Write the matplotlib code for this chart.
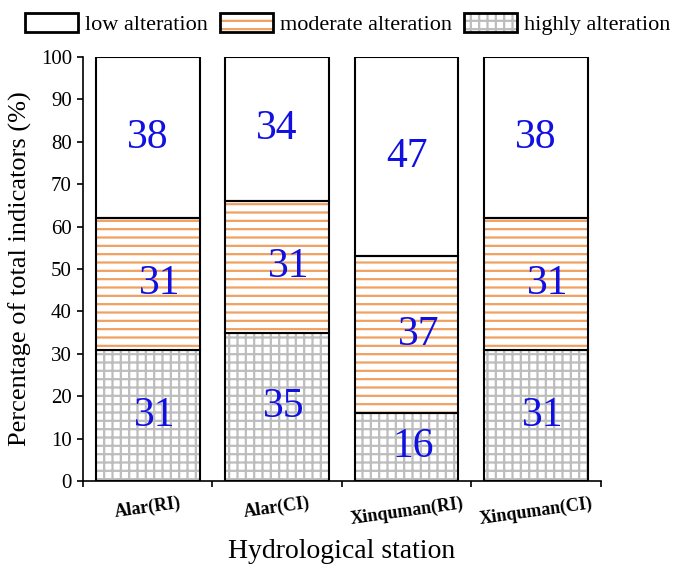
import matplotlib
matplotlib.use("Agg")
import matplotlib.pyplot as plt
import matplotlib.patches as patches
import numpy as np

# data
stations = ["Alar(RI)", "Alar(CI)", "Xinquman(RI)", "Xinquman(CI)"]
highly = [31, 35, 16, 31]
moderate = [31, 31, 37, 31]
low = [38, 34, 47, 38]
series_names = ["low alteration", "moderate alteration", "highly alteration"]

plt.rcParams["font.family"] = ["Liberation Serif", "DejaVu Serif"]
plt.rcParams["hatch.linewidth"] = 1.6

fig = plt.figure(figsize=(6.75, 5.64), dpi=100)
ax = fig.add_axes([0.123, 0.147, 0.767, 0.752])

x = np.arange(len(stations))
w = 0.8
bottoms_mod = np.array(highly)
bottoms_low = bottoms_mod + np.array(moderate)

grey = "#bdbdbd"
orange = "#f0a060"
layers = [
    (highly, np.zeros(len(x)), "++", grey),
    (moderate, bottoms_mod, "--", orange),
    (low, bottoms_low, None, None),
]
for vals, bot, hatch, hcol in layers:
    if hatch:
        ax.bar(x, vals, w, bottom=bot, color="white", edgecolor=hcol,
               hatch=hatch, linewidth=0)
    ax.bar(x, vals, w, bottom=bot, fill=False, edgecolor="black", linewidth=1.5)

# value labels (middle layer is drawn a bit right of centre, as in the original)
for vals, bot, off in zip([highly, moderate, low],
                          [np.zeros(len(x)), bottoms_mod, bottoms_low],
                          [0.05, 0.09, 0.0]):
    for i in range(len(x)):
        ax.text(x[i] + off, bot[i] + vals[i] / 2, str(vals[i]), color="#1010e0",
                fontsize=30, ha="center", va="center")

ax.set_xlim(-0.5, 3.5)
ax.set_ylim(0, 100)
ax.set_yticks(np.arange(0, 101, 10))
ax.tick_params(axis="y", labelsize=15, direction="out", length=4, width=1.2, pad=4)
ax.set_xticks(np.arange(-0.5, 3.6, 1.0))
ax.set_xticklabels([])
ax.tick_params(axis="x", direction="out", length=4, width=1.2)
ax.set_xticks(x, minor=True)
ax.set_xticklabels(stations, minor=True, fontweight="bold", fontsize=13,
                   rotation=8)
ax.tick_params(axis="x", which="minor", length=0, pad=10)
for s in ["top", "right"]:
    ax.spines[s].set_visible(False)
for s in ["left", "bottom"]:
    ax.spines[s].set_linewidth(1.2)

ax.set_ylabel("Percentage of total indicators (%)", fontsize=19, labelpad=6)
ax.set_xlabel("Hydrological station", fontsize=20, labelpad=8)

handles = []
for hatch, hcol in [(None, None), ("--", orange), ("++", grey)]:
    outline = patches.Rectangle((0, 0), 1, 1, fill=False, edgecolor="black", linewidth=2)
    if hatch:
        inner = patches.Rectangle((0, 0), 1, 1, facecolor="white", edgecolor=hcol,
                                  hatch=hatch, linewidth=0)
        handles.append((inner, outline))
    else:
        handles.append(outline)
leg = fig.legend(handles, series_names, loc="upper center", ncol=3,
                 bbox_to_anchor=(0.515, 1.012), frameon=False, fontsize=16,
                 handlelength=2.4, handleheight=0.95, columnspacing=0.55,
                 handletextpad=0.3)

fig.savefig("out.png", dpi=100)
